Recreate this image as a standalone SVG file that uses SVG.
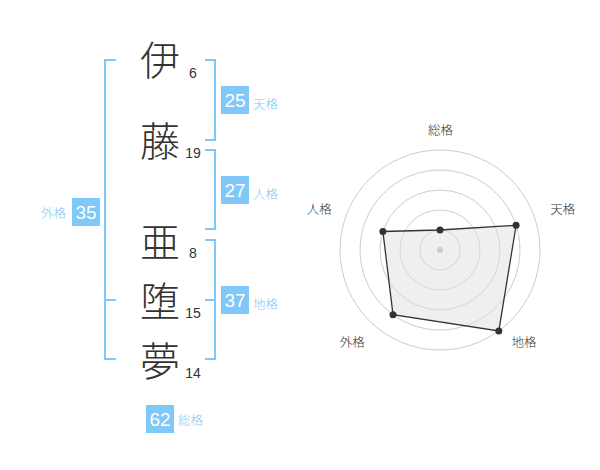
<svg xmlns="http://www.w3.org/2000/svg" width="600" height="470" viewBox="0 0 600 470">
<style>
.kanji{font-family:"Noto Sans CJK JP","Noto Sans CJK SC",sans-serif;font-size:40px;font-weight:300;fill:#333;text-anchor:middle}
.num{font-family:"Liberation Sans",Arial,sans-serif;font-size:14px;fill:#333;text-anchor:middle}
.br{fill:none;stroke:#80c8f8;stroke-width:2}
.box{fill:#80c8f8}
.bnum{font-family:"Liberation Sans",Arial,sans-serif;font-size:19px;fill:#fff;text-anchor:middle}
.blab{font-family:"Noto Sans CJK JP","Noto Sans CJK SC",sans-serif;font-size:12.5px;font-weight:300;fill:#80c8f8}
.rlab{font-family:"Noto Sans CJK JP","Noto Sans CJK SC",sans-serif;font-size:12.5px;font-weight:300;fill:#333;text-anchor:middle}
.ring{fill:none;stroke:#cccccc;stroke-width:1}
.dot{fill:#333}
</style>
<rect width="600" height="470" fill="#fff"/>
<g id="connectors">
<path class="br" d="M116,60 H105 V359 H116 M105,300 H116"/>
<path class="br" d="M205,60 H215 V140 H205"/>
<path class="br" d="M205,150 H215 V229 H205"/>
<path class="br" d="M205,240 H215 V359 H205 M205,300 H215"/>
</g>
<g id="char1"><text class="kanji" x="160" y="75">伊</text><text class="num" x="193" y="78">6</text></g>
<g id="char2"><text class="kanji" x="160" y="155.5">藤</text><text class="num" x="193" y="158">19</text></g>
<g id="char3"><text class="kanji" x="160" y="256.5">亜</text><text class="num" x="193" y="258">8</text></g>
<g id="char4"><text class="kanji" x="160" y="315.5">堕</text><text class="num" x="193" y="318">15</text></g>
<g id="char5"><text class="kanji" x="160" y="375.5">夢</text><text class="num" x="193" y="378">14</text></g>
<g id="tenkaku"><rect class="box" x="221" y="86" width="28" height="28"/><text class="bnum" x="235" y="107.3">25</text><text class="blab" x="253" y="108.5">天格</text></g>
<g id="jinkaku"><rect class="box" x="221" y="176" width="28" height="28"/><text class="bnum" x="235" y="197.3">27</text><text class="blab" x="253" y="198.5">人格</text></g>
<g id="chikaku"><rect class="box" x="221" y="286" width="28" height="28"/><text class="bnum" x="235" y="307.3">37</text><text class="blab" x="253" y="308.5">地格</text></g>
<g id="gaikaku"><rect class="box" x="72" y="198" width="28" height="28"/><text class="bnum" x="86" y="219.3">35</text><text class="blab" x="41" y="218">外格</text></g>
<g id="soukaku"><rect class="box" x="146" y="405" width="28" height="28"/><text class="bnum" x="160" y="426.3">62</text><text class="blab" x="178" y="425">総格</text></g>
<g id="radar">
<circle class="ring" cx="440" cy="250" r="20"/>
<circle class="ring" cx="440" cy="250" r="40"/>
<circle class="ring" cx="440" cy="250" r="60"/>
<circle class="ring" cx="440" cy="250" r="80"/>
<circle class="ring" cx="440" cy="250" r="100"/>
<polygon points="440,230 516.1,225.3 498.8,330.9 393,314.7 382.9,231.5" fill="#e0e0e0" fill-opacity="0.5" stroke="#333" stroke-width="1.3"/>
<circle cx="440" cy="250" r="3" fill="#cccccc"/>
<circle class="dot" cx="440" cy="230" r="3.5"/>
<circle class="dot" cx="516.1" cy="225.3" r="3.5"/>
<circle class="dot" cx="498.8" cy="330.9" r="3.5"/>
<circle class="dot" cx="393" cy="314.7" r="3.5"/>
<circle class="dot" cx="382.9" cy="231.5" r="3.5"/>
<text class="rlab" x="440.5" y="135.3">総格</text>
<text class="rlab" x="562.7" y="213.5">天格</text>
<text class="rlab" x="319.3" y="213.5">人格</text>
<text class="rlab" x="352.3" y="346.8">外格</text>
<text class="rlab" x="524" y="346.8">地格</text>
</g>
</svg>
